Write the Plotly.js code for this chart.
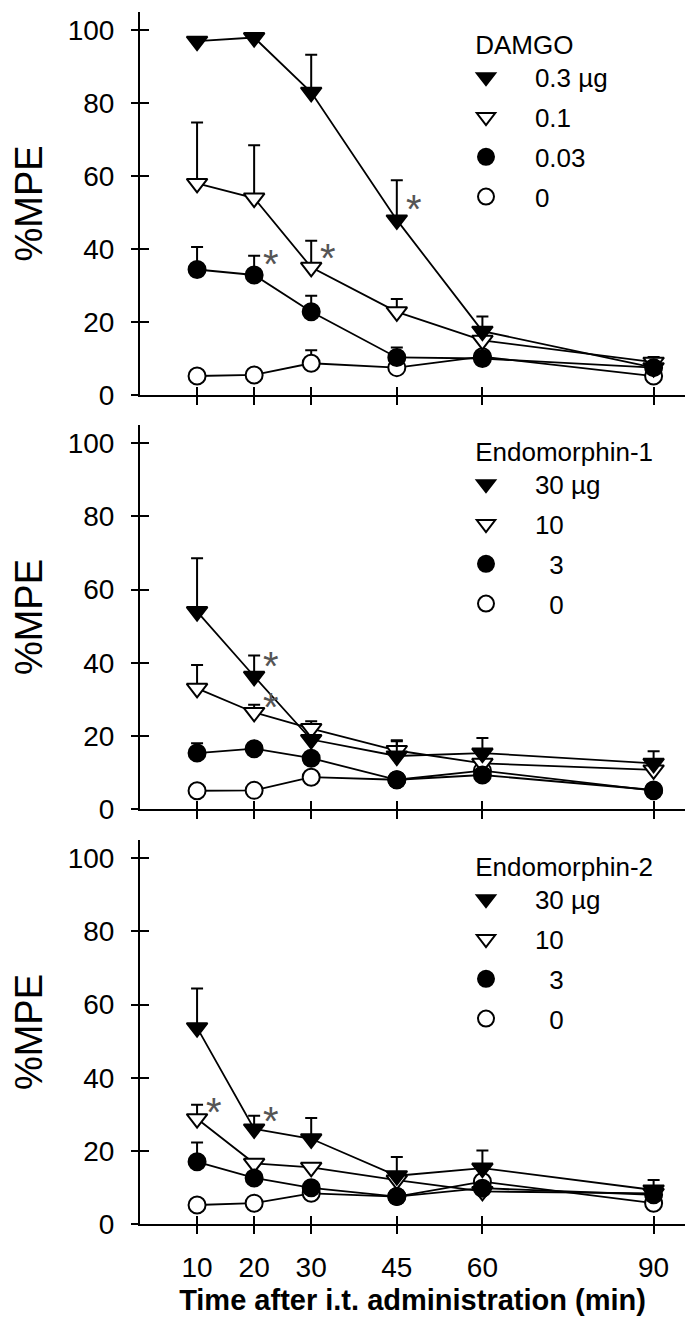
<!DOCTYPE html>
<html><head><meta charset="utf-8">
<script src="https://cdn.plot.ly/plotly-3.0.1.min.js"></script>
<style>html,body{margin:0;padding:0;background:#fff}</style>
</head><body><div id="chart" style="width:685px;height:1329px"></div>
<script>
// ---- data ----
const times = [10, 20, 30, 45, 60, 90];
const xTickLabels = ['10', '20', '30', '45', '60', '90'];
const yTickVals = [0, 20, 40, 60, 80, 100];
const panelTitles = ['DAMGO', 'Endomorphin-1', 'Endomorphin-2'];
const damgoLabels = ['0.3 µg', '0.1', '0.03', '0'];
const endo1Labels = ['30 µg', '10', '\u00a0\u00a03', '\u00a0\u00a00'];
const endo2Labels = ['30 µg', '10', '\u00a0\u00a03', '\u00a0\u00a00'];

const damgo03 = [97, 98, 83, 48, 17.5, 7.5];
const damgo03Err = [1, 0.5, 10.3, 10.9, 4, 1];
const damgo01 = [58, 54, 35, 22.8, 15, 9];
const damgo01Err = [16.7, 14.5, 7.3, 3.5, 1, 1.4];
const damgo003 = [34.4, 32.9, 22.8, 10.3, 10, 7.5];
const damgo003Err = [6.2, 5.3, 4.4, 2.7, 1, 1];
const damgo0 = [5.2, 5.5, 8.7, 7.5, 10.5, 5.2];
const damgo0Err = [0.5, 0.5, 3.6, 1, 1, 1];

const endo1_30 = [54, 36.3, 19, 14.5, 15.3, 12.5];
const endo1_30Err = [14.6, 5.7, 1, 4.3, 4.1, 3.3];
const endo1_10 = [33, 26.4, 22, 16, 12.5, 10.7];
const endo1_10Err = [6.4, 2.1, 2, 2.5, 1, 1];
const endo1_3 = [15.3, 16.5, 13.9, 8, 9.3, 5.2];
const endo1_3Err = [2.7, 1.5, 1, 1, 1, 1];
const endo1_0 = [5, 5.1, 8.7, 8, 10.5, 5];
const endo1_0Err = [0.5, 0.5, 1, 1, 1, 1];

const endo2_30 = [53.7, 26, 23.3, 13.2, 15.3, 9.3];
const endo2_30Err = [10.7, 3.6, 5.7, 5.1, 4.8, 2.7];
const endo2_10 = [28.8, 16.6, 15.5, 12, 8.9, 8.4];
const endo2_10Err = [3.8, 1, 1, 1, 1, 1];
const endo2_3 = [17, 12.6, 9.9, 7.5, 9.8, 8];
const endo2_3Err = [5.3, 1, 1, 1, 1, 1];
const endo2_0 = [5.2, 5.7, 8.4, 7.5, 11.6, 5.7];
const endo2_0Err = [0.5, 0.5, 1, 1, 1, 1];

// significance asterisks: panel index, time, level
const starPanel = [0, 0, 0, 1, 1, 2, 2];
const starX = [45, 30, 20, 20, 20, 10, 20];
const starY = [53.4, 40, 38.4, 41.5, 30.3, 33, 30.7];

// ---- build ----
const FONT = '"Liberation Sans", Arial, Helvetica, sans-serif';
const NB = '\u00a0';
const panels = [
  {labels: damgoLabels, vals: [damgo03, damgo01, damgo003, damgo0], errs: [damgo03Err, damgo01Err, damgo003Err, damgo0Err]},
  {labels: endo1Labels, vals: [endo1_30, endo1_10, endo1_3, endo1_0], errs: [endo1_30Err, endo1_10Err, endo1_3Err, endo1_0Err]},
  {labels: endo2Labels, vals: [endo2_30, endo2_10, endo2_3, endo2_0], errs: [endo2_30Err, endo2_10Err, endo2_3Err, endo2_0Err]}
];
const styles = [
  {symbol: 'triangle-down', fill: '#000', size: 18},
  {symbol: 'triangle-down', fill: '#fff', size: 18},
  {symbol: 'circle', fill: '#000', size: 17},
  {symbol: 'circle', fill: '#fff', size: 17}
];
const drawOrder = [3, 1, 2, 0];
const traces = [];
panels.forEach((p, pi) => {
  const sx = pi === 0 ? '' : String(pi + 1);
  const lg = pi === 0 ? 'legend' : 'legend' + (pi + 1);
  // connecting lines on the main axes
  for (let s = 0; s < 4; s++) {
    traces.push({x: times, y: p.vals[s], xaxis: 'x' + sx, yaxis: 'y' + sx, mode: 'lines',
      line: {color: '#000', width: 1.8}, showlegend: false, hoverinfo: 'skip'});
  }
  // markers + SEM bars on the overlaid axes (drawn above the lines)
  drawOrder.forEach(s => {
    const st = styles[s];
    traces.push({x: times, y: p.vals[s], xaxis: 'x' + (pi + 4), yaxis: 'y' + (pi + 4), mode: 'markers',
      name: NB + NB + NB + NB + p.labels[s], legend: lg, legendrank: s + 1, legendgroup: 'p' + pi + 's' + s,
      marker: {symbol: st.symbol, size: st.size, color: st.fill, line: {color: '#000', width: 2}},
      error_y: {type: 'data', symmetric: false, array: p.errs[s], arrayminus: p.errs[s].map(() => 0),
        color: '#000', thickness: 2, width: 6}});
  });
});

const domains = [[0.684, 1], [0.3424, 0.6592], [0, 0.3168]];
const layout = {
  width: 685, height: 1329,
  margin: {t: 12, b: 105, l: 140, r: 0},
  paper_bgcolor: '#fff', plot_bgcolor: '#fff',
  font: {family: FONT, color: '#000', size: 26},
  showlegend: true,
  annotations: []
};
const legendTops = [20, 427, 842];
for (let pi = 0; pi < 3; pi++) {
  const sx = pi === 0 ? '' : String(pi + 1);
  // main axes: line, labels and inner halves of the crossing ticks
  layout['xaxis' + sx] = {domain: [0, 1], anchor: 'y' + sx, range: [0, 95.5],
    showline: true, linewidth: 2, linecolor: '#000', ticks: 'inside', ticklen: 8, tickwidth: 2, tickcolor: '#000',
    tickmode: 'array', tickvals: times, ticktext: xTickLabels, showticklabels: pi === 2,
    tickfont: {size: 28, family: FONT}, showgrid: false, zeroline: false, ticklabelstandoff: 17,
    title: pi === 2 ? {text: '<b>Time after i.t. administration (min)</b>', font: {size: 29, family: FONT}, standoff: 8} : undefined};
  layout['yaxis' + sx] = {domain: domains[pi], anchor: 'x' + sx, range: [0, 105],
    showline: true, linewidth: 2, linecolor: '#000', ticks: 'inside', ticklen: 9, tickwidth: 2, tickcolor: '#000',
    tickmode: 'array', tickvals: yTickVals, tickfont: {size: 28, family: FONT}, showgrid: false, zeroline: false,
    ticklabelstandoff: 18,
    title: {text: '%MPE', font: {size: 38, family: FONT}, standoff: 13}};
  // overlaid axes: outer halves of the crossing ticks
  layout['xaxis' + (pi + 4)] = {overlaying: 'x' + sx, anchor: 'y' + sx, range: [0, 95.5], showline: false,
    ticks: 'outside', ticklen: 9, tickwidth: 2, tickcolor: '#000', tickmode: 'array', tickvals: times,
    showticklabels: false, showgrid: false, zeroline: false};
  layout['yaxis' + (pi + 4)] = {overlaying: 'y' + sx, anchor: 'x' + sx, range: [0, 105], showline: false,
    ticks: 'outside', ticklen: 8, tickwidth: 2, tickcolor: '#000', tickmode: 'array', tickvals: yTickVals,
    showticklabels: false, showgrid: false, zeroline: false};
  const lgKey = pi === 0 ? 'legend' : 'legend' + (pi + 1);
  layout[lgKey] = {x: (466 - 140) / 545, y: (1224 - legendTops[pi]) / 1212, xanchor: 'left', yanchor: 'top',
    bgcolor: 'rgba(0,0,0,0)', borderwidth: 0, font: {size: 26, family: FONT},
    title: {text: NB + panelTitles[pi], font: {size: 26, family: FONT}}, traceorder: 'grouped', tracegroupgap: 3,
    itemwidth: 30};
}
starPanel.forEach((pi, i) => {
  const sx = pi === 0 ? '' : String(pi + 1);
  layout.annotations.push({xref: 'x' + sx, yref: 'y' + sx, x: starX[i], y: starY[i], text: '*',
    showarrow: false, xshift: 17, yshift: -9, font: {size: 40, family: FONT, color: '#555'}});
});

Plotly.newPlot('chart', traces, layout, {displayModeBar: false, staticPlot: true});
</script></body></html>
